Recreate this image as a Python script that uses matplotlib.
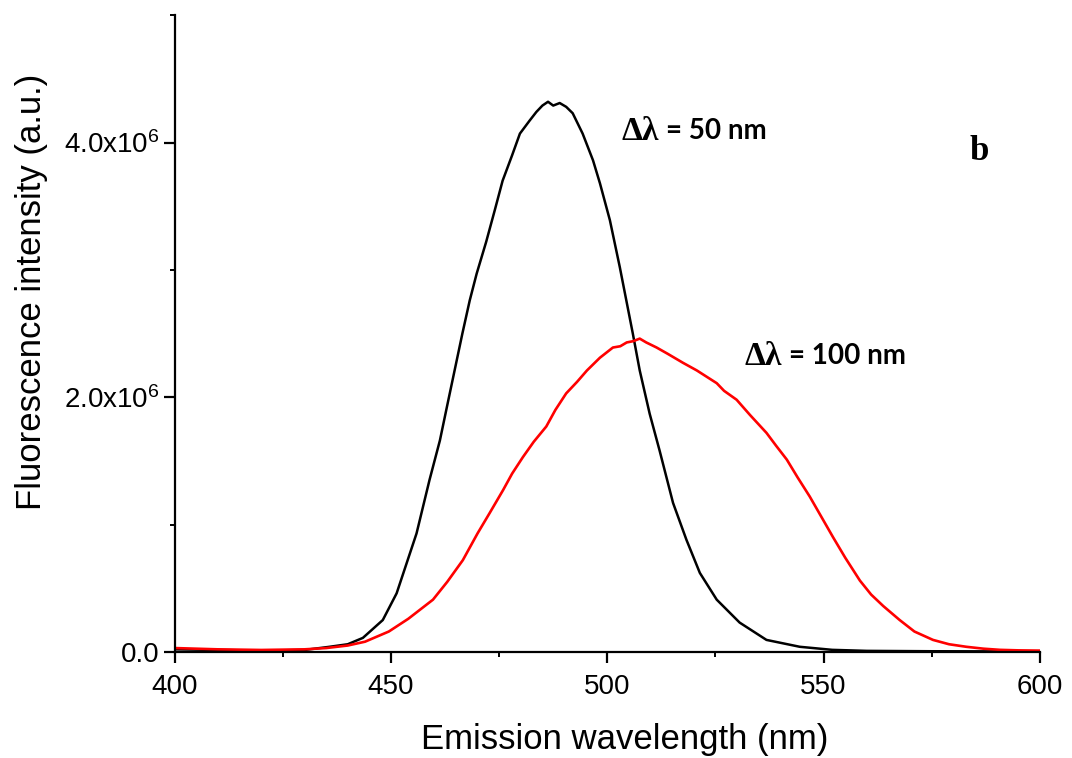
import matplotlib
matplotlib.use("Agg")
import matplotlib.pyplot as plt
from matplotlib.ticker import MultipleLocator, FuncFormatter

plt.rcParams['font.family'] = ['Liberation Sans', 'DejaVu Sans']
plt.rcParams['mathtext.default'] = 'regular'

# spectra (wavelength in nm, intensity in units of 1e6)
black_nm = [400, 410, 420, 430, 435.8, 440, 443.5, 448.1, 451.3, 455.9, 458.9, 461.3,
            462.9, 464.7, 466.5, 468.2, 469.8, 472, 474, 475.8, 478, 479.8, 482, 483.6,
            485, 486.3, 487.5, 489, 490.5, 492, 494.3, 496.7, 498.3, 500.6, 502.9, 505.9,
            507.5, 509.8, 512.1, 515.2, 518.3, 521.4, 525.3, 530.6, 536.8, 544.5, 552,
            560, 575, 590, 600]
black_int = [0.02, 0.015, 0.01, 0.015, 0.04, 0.06, 0.11, 0.25, 0.46, 0.93, 1.35, 1.66,
             1.92, 2.21, 2.50, 2.76, 2.97, 3.22, 3.47, 3.70, 3.90, 4.07, 4.17, 4.24,
             4.29, 4.32, 4.29, 4.31, 4.28, 4.23, 4.07, 3.86, 3.68, 3.39, 3.02, 2.50,
             2.21, 1.87, 1.58, 1.17, 0.88, 0.62, 0.41, 0.23, 0.094, 0.04, 0.016,
             0.008, 0.005, 0.004, 0.004]

red_nm = [400, 405, 410, 420, 430, 435, 440, 444, 449.5, 454, 459.7, 463, 466.6, 470,
          472.8, 475.9, 478, 480.5, 483, 485.9, 488, 490.5, 493, 495.3, 498.3, 501.3,
          503, 504.5, 506, 507.5, 509, 511.4, 514, 517.5, 520.7, 523, 525.3, 527,
          529.9, 533, 536.8, 539, 541.5, 544, 546.8, 549.5, 552.2, 555, 558.4, 561,
          563.8, 567.6, 571, 575.3, 579, 583, 587, 590.8, 595, 600]
red_int = [0.03, 0.025, 0.02, 0.015, 0.02, 0.03, 0.05, 0.08, 0.16, 0.26, 0.41, 0.55,
           0.72, 0.93, 1.09, 1.27, 1.40, 1.53, 1.65, 1.77, 1.90, 2.03, 2.12, 2.21,
           2.31, 2.39, 2.40, 2.43, 2.44, 2.46, 2.43, 2.39, 2.34, 2.27, 2.21, 2.16,
           2.11, 2.05, 1.98, 1.86, 1.72, 1.62, 1.51, 1.37, 1.22, 1.06, 0.90, 0.74,
           0.56, 0.45, 0.36, 0.25, 0.16, 0.094, 0.06, 0.04, 0.025, 0.016, 0.012, 0.01]

fig = plt.figure(figsize=(10.72, 7.58), dpi=100)
ax = fig.add_axes([0.163, 0.140, 0.807, 0.840])

ax.plot(black_nm, [v * 1e6 for v in black_int], color='black', lw=1.8)
ax.plot(red_nm, [v * 1e6 for v in red_int], color='red', lw=1.9)

ax.set_xlim(400, 600)
ax.set_ylim(0, 5e6)
ax.xaxis.set_major_locator(MultipleLocator(50))
ax.xaxis.set_minor_locator(MultipleLocator(25))
ax.yaxis.set_major_locator(MultipleLocator(2e6))
ax.yaxis.set_minor_locator(MultipleLocator(1e6))


def fmt_y(v, pos):
    if v == 0:
        return "0.0"
    return r"%.1fx10$^{6}$" % (v / 1e6)


ax.yaxis.set_major_formatter(FuncFormatter(fmt_y))

for side in ['top', 'right']:
    ax.spines[side].set_visible(False)
for side in ['left', 'bottom']:
    ax.spines[side].set_linewidth(1.6)

ax.tick_params(which='major', direction='out', length=8, width=1.6, labelsize=20, pad=8)
ax.tick_params(which='minor', direction='out', length=3.5, width=1.4)
ax.tick_params(axis='y', which='major', labelsize=20, pad=3)

ax.set_xlabel("Emission wavelength (nm)", fontsize=25)
ax.xaxis.set_label_coords(0.52, -0.112)
ax.set_ylabel("Fluorescence intensity (a.u.)", fontsize=25)
ax.yaxis.set_label_coords(-0.146, 0.565)

# peak labels
ax.text(503.4, 4.09e6, "Δλ", family='Liberation Serif', fontweight='bold',
        fontsize=24, va='center', ha='left')
ax.text(513.5, 4.09e6, "= 50 nm", family='Lato', fontweight='bold',
        fontsize=20, va='center', ha='left')
ax.text(531.8, 2.32e6, "Δλ", family='Liberation Serif', fontweight='bold',
        fontsize=24, va='center', ha='left')
ax.text(542.0, 2.32e6, "= 100 nm", family='Lato', fontweight='bold',
        fontsize=20, va='center', ha='left')
ax.text(585.9, 3.93e6, "b", family='Liberation Serif', fontweight='bold',
        fontsize=25, va='center', ha='center')

fig.savefig("out.png", dpi=100)
